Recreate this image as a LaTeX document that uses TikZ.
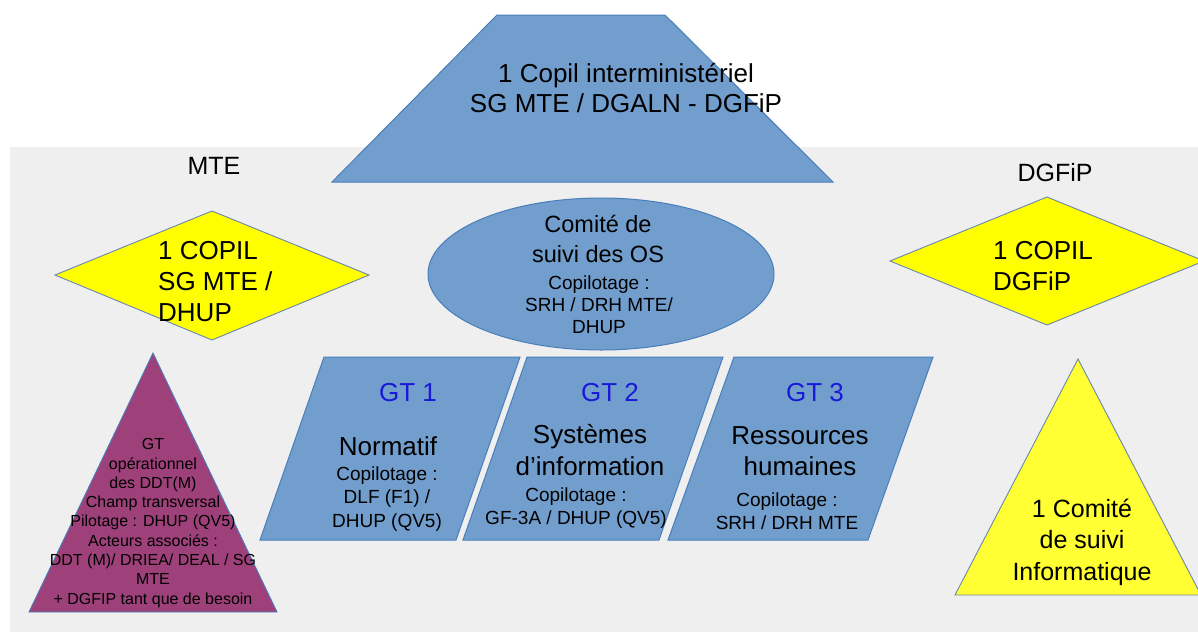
\documentclass[tikz,border=0pt]{standalone}
\usepackage{fontspec}
\setmainfont{Liberation Sans}
\usetikzlibrary{shapes.geometric}
\definecolor{bgGray}{RGB}{239,239,239}
\definecolor{shapeBlue}{RGB}{114,158,206}
\definecolor{edgeBlue}{RGB}{74,126,187}
\definecolor{diaYellow}{RGB}{255,255,0}
\definecolor{triYellow}{RGB}{255,255,51}
\definecolor{edgeGray}{RGB}{105,135,175}
\definecolor{plum}{RGB}{158,65,122}
\definecolor{gtBlue}{RGB}{25,25,215}
\tikzset{
  bluebox/.style={fill=shapeBlue, draw=edgeBlue, line width=1pt},
  yellowbox/.style={fill=diaYellow, draw=edgeGray, line width=0.9pt},
  bigtxt/.style={font=\fontsize{26}{31}\selectfont, inner sep=0pt, align=center},
  midtxt/.style={font=\fontsize{23.5}{30}\selectfont, inner sep=0pt, align=center},
  smalltxt/.style={font=\fontsize{19}{23.5}\selectfont, inner sep=0pt, align=center},
  gttxt/.style={font=\fontsize{26}{31}\selectfont, inner sep=0pt, text=gtBlue},
  tinytxt/.style={font=\fontsize{16}{19.3}\selectfont, inner sep=0pt, align=center}
}
\begin{document}
\begin{tikzpicture}[x=1pt,y=-1pt]
\useasboundingbox (0,0) rectangle (1198,635);
% background panel
\fill[bgGray] (10,147) rectangle (1198,632);

% top trapezoid
\draw[bluebox] (497,15) -- (665,15) -- (833,182) -- (332,182) -- cycle;
\node[bigtxt, font=\fontsize{26}{30}\selectfont] (copilInter) at (626,88) {1 Copil interministériel\\SG MTE / DGALN - DGFiP};

% side labels
\node[bigtxt, font=\fontsize{25}{30}\selectfont] (lblMTE) at (214,166) {MTE};
\node[bigtxt, font=\fontsize{25}{30}\selectfont] (lblDGFiP) at (1055,173) {DGFiP};

% left diamond
\draw[yellowbox] (212,211) -- (369,275) -- (212,340) -- (55,275) -- cycle;
\node[bigtxt, align=left, anchor=west] (copilMTE) at (158,282) {1 COPIL\\SG MTE /\\DHUP};

% right diamond
\draw[yellowbox] (1047,197) -- (1204,261) -- (1047,325) -- (890,261) -- cycle;
\node[bigtxt, align=left, anchor=west] (copilDGFiP) at (993,266) {1 COPIL\\DGFiP};

% ellipse
\node[ellipse, bluebox, minimum width=346pt, minimum height=152pt, inner sep=0pt] (ellOS) at (601,274) {};
\node[midtxt] (ellTitle) at (598,239) {Comité de\\suivi des OS};
\node[smalltxt, font=\fontsize{19}{22}\selectfont] (ellSub) at (599,305) {Copilotage :\\SRH / DRH MTE/\\DHUP};

% GT parallelograms
\draw[bluebox] (260,540) -- (456,540) -- (520,357) -- (324,357) -- cycle;
\draw[bluebox] (463,540) -- (659,540) -- (723,357) -- (527,357) -- cycle;
\draw[bluebox] (668,540) -- (868,540) -- (933,357) -- (734,357) -- cycle;

\node[gttxt] (gt1) at (408,393) {GT 1};
\node[bigtxt] (gt1title) at (388,446) {Normatif};
\node[smalltxt] (gt1sub) at (387,499) {Copilotage :\\DLF (F1) /\\DHUP (QV5)};

\node[gttxt] (gt2) at (610,393) {GT 2};
\node[bigtxt, font=\fontsize{26}{32}\selectfont] (gt2title) at (590,450) {Systèmes\\d’information};
\node[smalltxt] (gt2sub) at (576,508) {Copilotage :\\GF-3A / DHUP (QV5)};

\node[gttxt] (gt3) at (815,393) {GT 3};
\node[bigtxt, font=\fontsize{26}{31}\selectfont] (gt3title) at (800,451) {Ressources\\humaines};
\node[smalltxt] (gt3sub) at (787,511) {Copilotage :\\SRH / DRH MTE};

% purple triangle
\draw[fill=plum, draw=edgeBlue, line width=0.9pt] (153,353) -- (277,612) -- (29,612) -- cycle;
\node[tinytxt] (gtOper) at (153,523) {GT\\opérationnel\\des DDT(M)\\Champ  transversal\\Pilotage : DHUP (QV5)\\Acteurs associés :\\DDT (M)/ DRIEA/ DEAL / SG\\MTE\\+ DGFIP tant que de besoin};

% yellow triangle
\draw[fill=triYellow, draw=edgeGray, line width=0.9pt] (1078,359) -- (1201,595) -- (955,595) -- cycle;
\node[bigtxt, font=\fontsize{25}{31.5}\selectfont] (comInfo) at (1082,542) {1 Comité\\de suivi\\Informatique};
\end{tikzpicture}
\end{document}
